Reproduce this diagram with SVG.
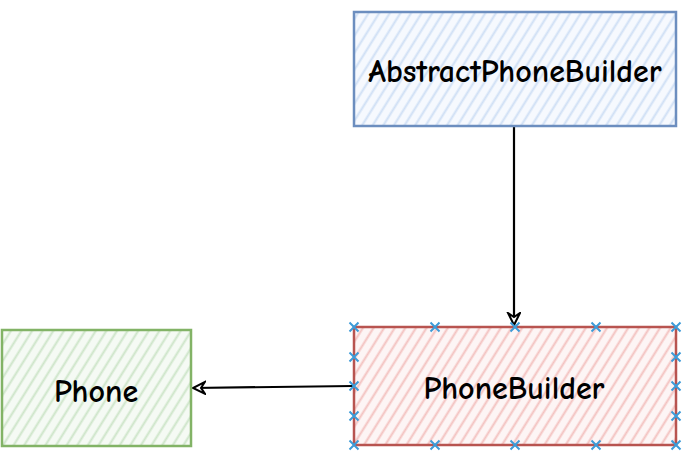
<svg xmlns="http://www.w3.org/2000/svg" width="684" height="452" viewBox="0 0 684 452">
<style>
.lbl{font-family:"Comic Neue","Liberation Sans",sans-serif;font-size:32px;font-weight:700;fill:#000;text-anchor:middle;dominant-baseline:central}
.edge{fill:none;stroke:#000;stroke-width:2.2}
.x{stroke:#3d9bd8;stroke-width:2;fill:none}
</style>
<defs>
<pattern id="hb" width="9" height="9" patternUnits="userSpaceOnUse" patternTransform="rotate(-58)"><rect width="9" height="9" fill="#f6f9fe"/><line x1="0" y1="4.5" x2="9" y2="4.5" stroke="#cfdff5" stroke-width="2"/></pattern>
<pattern id="hr" width="9" height="9" patternUnits="userSpaceOnUse" patternTransform="rotate(-58)"><rect width="9" height="9" fill="#fdf5f5"/><line x1="0" y1="4.5" x2="9" y2="4.5" stroke="#f3c2c0" stroke-width="2"/></pattern>
<pattern id="hg" width="9" height="9" patternUnits="userSpaceOnUse" patternTransform="rotate(-58)"><rect width="9" height="9" fill="#f5faf4"/><line x1="0" y1="4.5" x2="9" y2="4.5" stroke="#cde5c9" stroke-width="2"/></pattern>
<marker id="arr" markerWidth="16" markerHeight="16" refX="13" refY="7" orient="auto" markerUnits="userSpaceOnUse"><path d="M1,1 L13,7 L1,13 L5,7 Z" fill="#fff" stroke="#000" stroke-width="2"/></marker>
<path id="xm" d="M-4.5,-4.5 L4.5,4.5 M-4.5,4.5 L4.5,-4.5"/>
</defs>
<g id="edges">
<path class="edge" d="M514,127 L514,325" marker-end="url(#arr)"/>
<path class="edge" d="M353,386 L193,388" marker-end="url(#arr)"/>
</g>
<g id="abstract">
<rect x="354" y="12" width="322" height="114" fill="url(#hb)" stroke="#6c8ebf" stroke-width="2.5"/>
<text class="lbl" x="515" y="71">AbstractPhoneBuilder</text>
</g>
<g id="phonebuilder">
<rect x="354" y="327" width="322" height="118" fill="url(#hr)" stroke="#b85450" stroke-width="2.5"/>
<text class="lbl" x="514" y="388">PhoneBuilder</text>
<g class="x">
<use href="#xm" x="354" y="327"/><use href="#xm" x="435" y="327"/><use href="#xm" x="515" y="327"/><use href="#xm" x="596" y="327"/><use href="#xm" x="676" y="327"/>
<use href="#xm" x="354" y="445"/><use href="#xm" x="435" y="445"/><use href="#xm" x="515" y="445"/><use href="#xm" x="596" y="445"/><use href="#xm" x="676" y="445"/>
<use href="#xm" x="354" y="357"/><use href="#xm" x="354" y="386"/><use href="#xm" x="354" y="416"/>
<use href="#xm" x="676" y="357"/><use href="#xm" x="676" y="386"/><use href="#xm" x="676" y="416"/>
</g>
</g>
<g id="phone">
<rect x="2" y="330" width="189" height="116" fill="url(#hg)" stroke="#82b366" stroke-width="2.5"/>
<text class="lbl" x="96" y="391">Phone</text>
</g>
</svg>
